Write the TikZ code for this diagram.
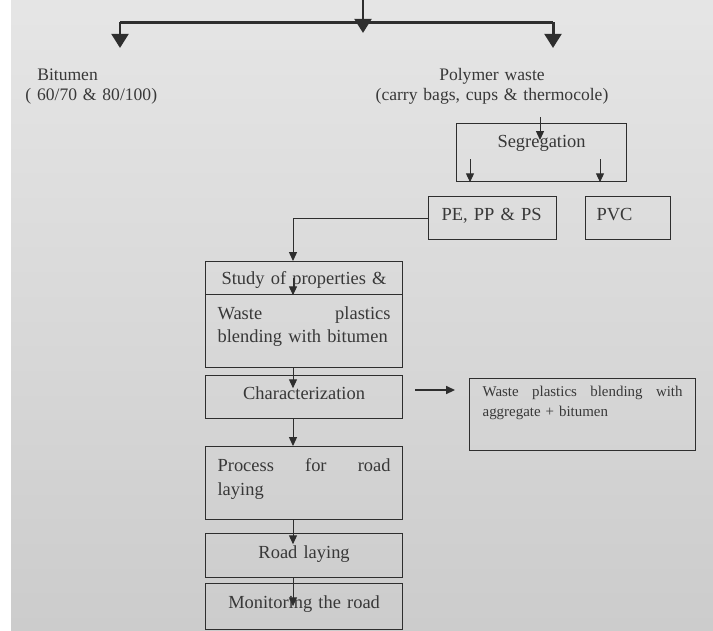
\documentclass[tikz,border=0pt]{standalone}
\usepackage{fontspec}
\setmainfont{Liberation Serif}
\usetikzlibrary{arrows.meta}

\definecolor{hgoben}{gray}{0.90}
\definecolor{hgunten}{gray}{0.80}
\definecolor{strich}{gray}{0.18}
\definecolor{schrift}{gray}{0.22}

\tikzset{
  kasten/.style={draw=strich, line width=0.7pt, anchor=north west, inner xsep=0.24cm, inner ysep=0pt,
    text=schrift, font=\fontsize{10.5}{13}\selectfont},
  beschrift/.style={inner sep=0pt, text=schrift, font=\fontsize{10}{11.3}\selectfont},
  pfeil/.style={draw=strich, line width=0.55pt, -{Triangle[width=4.5pt,length=5pt]}},
  dick/.style={draw=strich, line width=1.7pt},
  dickpfeil/.style={dick, -{Triangle[width=9.5pt,length=8pt]}}
}

\begin{document}
\begin{tikzpicture}[x=0.02cm, y=-0.02cm]
    \useasboundingbox (0,0) rectangle (713,630);
    % Hintergrund:
    \fill[white] (0,0) rectangle (713,630);
    \shade[top color=hgoben, bottom color=hgunten] (11,0) rectangle (713,630);

    % oberste Verzweigung:
    \coordinate (oben) at (363,0);
    \coordinate (mitte) at (363,33);
    \coordinate (links) at (120,22);
    \coordinate (rechts) at (553,22);
    \coordinate (bitpfeil) at (120,48);
    \coordinate (polypfeil) at (553,48);
    \draw[dick] (links) -- (rechts); % Querstrich
    \draw[dickpfeil] (oben) -- (mitte);
    \draw[dickpfeil] (links) -- (bitpfeil);
    \draw[dickpfeil] (rechts) -- (polypfeil);

    % Ausgangsstoffe:
    \node[beschrift, anchor=north west, text width=3.2cm, align=left, text height=0.26cm]
        (bitumen) at (25,67) {\hspace{6.8pt}Bitumen\\( 60/70 \& 80/100)};
    \node[beschrift, anchor=north, text width=6cm, align=center, text height=0.26cm]
        (polymer) at (492,67) {Polymer waste\\(carry bags, cups \& thermocole)};

    % Trennung:
    \node[kasten, text width=2.92cm, align=center, text height=0.48cm, text depth=0.68cm]
        (seg) at (456,123) {Segregation};
    \node[kasten, inner xsep=0.26cm, text width=2.04cm, align=left, text height=0.48cm, text depth=0.38cm]
        (pe) at (428,196) {PE, PP \& PS};
    \node[kasten, inner xsep=0.22cm, text width=1.26cm, align=left, text height=0.48cm, text depth=0.38cm]
        (pvc) at (585,196) {PVC};

    % Hauptspalte:
    \node[kasten, text width=3.46cm, align=center, text height=0.46cm, text depth=0.2cm]
        (study) at (205,261) {Study of properties \&};
    \node[kasten, text width=3.46cm, align=left, text height=0.5cm, text depth=0.96cm]
        (waste) at (205,294) {Waste \hfill plastics\\blending with bitumen};
    \node[kasten, text width=3.46cm, align=center, text height=0.48cm, text depth=0.38cm]
        (char) at (205,375) {Characterization};
    \node[kasten, text width=3.46cm, align=left, text height=0.5cm, text depth=0.96cm,
        font=\fontsize{10.5}{13.6}\selectfont]
        (proc) at (205,446) {Process \hfill for \hfill road\\laying};
    \node[kasten, text width=3.46cm, align=center, text height=0.5cm, text depth=0.38cm]
        (road) at (205,533) {Road laying};
    \node[kasten, text width=3.46cm, align=center, text height=0.5cm, text depth=0.42cm]
        (mon) at (205,583) {Monitoring the road};

    % Nebenkasten:
    \node[kasten, inner xsep=0.26cm, text width=4cm, align=left, text height=0.36cm, text depth=1.08cm,
        font=\fontsize{8.5}{11.3}\selectfont]
        (ext) at (469,378) {Waste \hfill plastics \hfill blending \hfill with\\aggregate + bitumen};

    % duenne Pfeile:
    \coordinate (segin) at (540,117);
    \coordinate (segend) at (540,140);
    \coordinate (s1) at (470,159);
    \coordinate (s2) at (600,159);
    \coordinate (spalte) at (293,0);
    \coordinate (c1) at (415,390);
    \coordinate (c2) at (455,390);
    \draw[pfeil] (segin) -- (segend);
    \draw[pfeil] (s1) -- (s1 |- seg.south);
    \draw[pfeil] (s2) -- (s2 |- seg.south);
    \draw[pfeil] (pe.west) -| (spalte |- study.north);
    \draw[pfeil] (spalte |- study.center) -- (spalte |- study.south);
    \draw[pfeil] (spalte |- waste.south) -- ++(0,20);
    \draw[pfeil] (spalte |- char.south) -- (spalte |- proc.north);
    \draw[pfeil] (spalte |- proc.south) -- ++(0,24);
    \draw[pfeil] (spalte |- road.south) -- ++(0,28);
    \draw[pfeil, line width=0.9pt] (c1) -- (c2);
\end{tikzpicture}
\end{document}
